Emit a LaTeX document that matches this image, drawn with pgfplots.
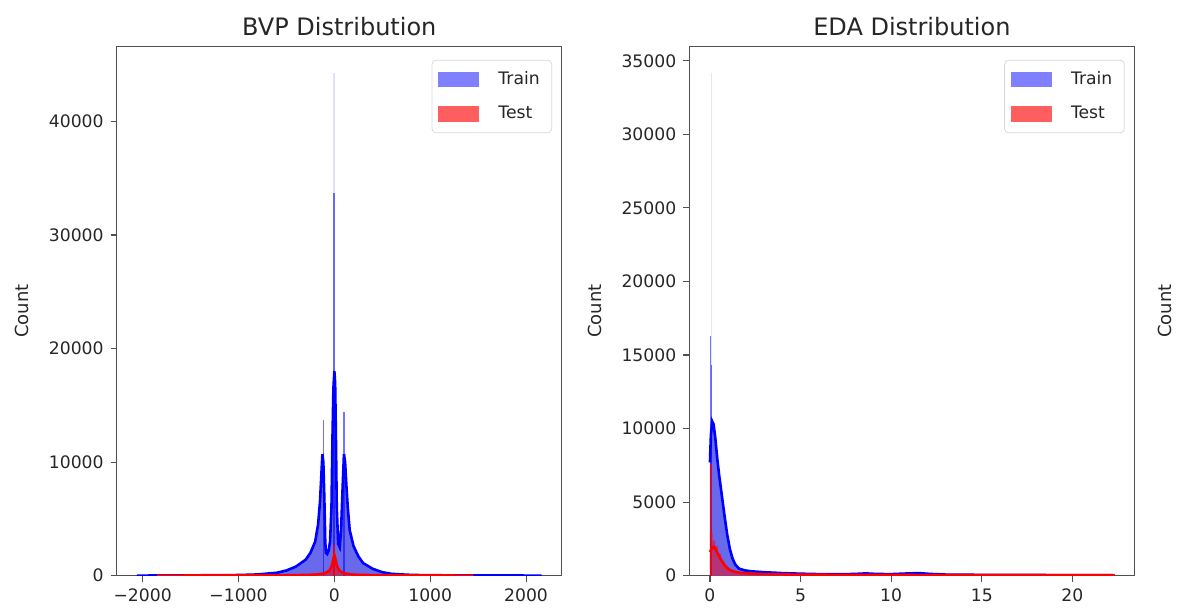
\documentclass[border=0pt]{standalone}
\usepackage{fontspec}
\setmainfont{DejaVu Sans}
\usepackage{pgfplots}
\pgfplotsset{compat=1.18}
\definecolor{histblue}{RGB}{105,105,235}
\definecolor{axgray}{RGB}{80,80,80}
\pgfplotsset{
  dist/.style={
    scale only axis,
    width=222.6pt, height=264.5pt,
    scaled x ticks=false, scaled y ticks=false,
    axis line style={axgray, line width=0.55pt},
    tick align=outside, tick pos=left,
    major tick length=3pt,
    every tick/.style={axgray, line width=0.55pt},
    tick label style={font=\fontsize{8.6}{10}\selectfont, text=black!85},
    /pgf/number format/assume math mode=true,
    ylabel={Count},
    ylabel style={font=\fontsize{9}{10}\selectfont, text=black!85, at={(axis description cs:-0.213,0.5)}, anchor=center},
    every axis title shift=0pt,
    title style={font=\fontsize{12}{14}\selectfont, text=black!85, at={(axis description cs:0.5,1)}, anchor=base, yshift=5.5pt},
    legend style={at={(axis description cs:0.978,0.975)}, anchor=north east, draw=black!15, rounded corners=2pt,
      font=\fontsize{8.6}{10}\selectfont, text=black!85, inner xsep=3pt, inner ysep=3.5pt, row sep=5.5pt,
      fill=white, fill opacity=0.8, text opacity=1,
      nodes={inner xsep=3pt}},
    legend cell align=left,
    patchleg/.style={legend image code/.code={\fill[##1, draw=none, sharp corners] (0pt,-3.8pt) rectangle (20.5pt,3.8pt); \path (27pt,0pt);}},
  }
}
\begin{document}
\begin{tikzpicture}
\path[use as bounding box] (0,0) rectangle (590pt,308pt);
% ---------------- BVP ----------------
\begin{axis}[dist, at={(58.35pt,20.2pt)}, anchor=south west,
  title={BVP Distribution},
  xmin=-2271, xmax=2374, ymin=0, ymax=46600,
  xtick={-2000,-1000,0,1000,2000}, xticklabels={−2000,−1000,0,1000,2000},
  ytick={0,10000,20000,30000,40000}, yticklabels={0,10000,20000,30000,40000}]
\addlegendimage{patchleg, fill=blue, fill opacity=0.5}
\addlegendentry{Train}
\addlegendimage{patchleg, fill=red, fill opacity=0.63}
\addlegendentry{Test}
% train histogram area
\addplot[fill=histblue, draw=none, forget plot] coordinates {
(-2060,0) (-1500,20) (-1000,50) (-800,100) (-600,250) (-500,450) (-400,800) (-300,1400)
(-250,2000) (-200,3000) (-170,4500) (-150,6500) (-135,9000) (-125,10700) (-115,10000)
(-105,7000) (-95,3000) (-88,2000) (-75,1900) (-60,2200) (-45,3000) (-30,6000) (-20,12000)
(-10,16500) (0,18000) (8,17000) (15,13000) (25,6000) (40,2800) (56,2500) (70,4000)
(85,7500) (100,10700) (112,10000) (125,8000) (140,6000) (160,4000) (200,2600) (250,1700)
(300,1100) (400,600) (500,300) (600,150) (800,60) (1000,30) (1500,15) (2163,0)} \closedcycle;
% train spikes
\addplot[ycomb, blue, opacity=0.12, line width=0.6pt, forget plot] coordinates {(-3,44300)};
\addplot[ycomb, blue, opacity=0.55, line width=0.8pt, forget plot] coordinates {(-3,33700) (-115,13700) (102,14400)};
% train kde
\addplot[blue, line width=1.3pt, forget plot] coordinates {
(-2060,0) (-1500,20) (-1000,50) (-800,100) (-600,250) (-500,450) (-400,800) (-300,1400)
(-250,2000) (-200,3000) (-170,4500) (-150,6500) (-135,9000) (-125,10700) (-115,10000)
(-105,7000) (-95,3000) (-88,2000) (-75,1900) (-60,2200) (-45,3000) (-30,6000) (-20,12000)
(-10,16500) (0,18000) (8,17000) (15,13000) (25,6000) (40,2800) (56,2500) (70,4000)
(85,7500) (100,10700) (112,10000) (125,8000) (140,6000) (160,4000) (200,2600) (250,1700)
(300,1100) (400,600) (500,300) (600,150) (800,60) (1000,30) (1500,15) (2163,0)};
% test histogram area
\addplot[fill=red, fill opacity=0.55, draw=none, forget plot] coordinates {
(-1850,0) (-500,20) (-200,80) (-100,200) (-50,450) (-25,900) (-10,1500) (0,1800)
(10,1500) (25,900) (50,450) (100,200) (200,80) (500,20) (1450,0)} \closedcycle;
\addplot[ycomb, red, opacity=0.7, line width=0.8pt, forget plot] coordinates {(-3,2700)};
% test kde
\addplot[red, line width=1.3pt, forget plot] coordinates {
(-1850,0) (-500,20) (-200,80) (-100,200) (-50,450) (-25,900) (-10,1500) (0,1800)
(10,1500) (25,900) (50,450) (100,200) (200,80) (500,20) (1450,0)};
\end{axis}
% ---------------- EDA ----------------
\begin{axis}[dist, at={(344.65pt,20.2pt)}, anchor=south west,
  title={EDA Distribution},
  xmin=-1.14, xmax=23.43, ymin=0, ymax=35970,
  xtick={0,5,10,15,20}, xticklabels={0,5,10,15,20},
  ytick={0,5000,...,35000}, yticklabels={0,5000,10000,15000,20000,25000,30000,35000}]
\addlegendimage{patchleg, fill=blue, fill opacity=0.5}
\addlegendentry{Train}
\addlegendimage{patchleg, fill=red, fill opacity=0.63}
\addlegendentry{Test}
% train histogram area
\addplot[fill=histblue, draw=none, forget plot] coordinates {
(0,7700) (0.05,9500) (0.12,10500) (0.2,10300) (0.3,9300) (0.4,8000) (0.5,6900) (0.65,5500)
(0.8,4100) (0.95,2800) (1.1,1800) (1.25,1150) (1.4,750) (1.6,480) (1.9,360) (2.3,290)
(3,230) (4,170) (5,130) (6,100) (7,90) (8,110) (8.6,150) (9.2,110) (10,100) (10.8,140)
(11.5,170) (12.2,110) (13,70) (15,50) (18,40) (20,30) (22.33,20)} \closedcycle;
% train spikes
\addplot[ycomb, blue, opacity=0.1, line width=0.6pt, forget plot] coordinates {(0.1,34200)};
\addplot[ycomb, blue, opacity=0.55, line width=0.8pt, forget plot] coordinates {(0.03,16300) (0.08,14300)};
% train kde
\addplot[blue, line width=1.3pt, forget plot] coordinates {
(0,7700) (0.05,9500) (0.12,10500) (0.2,10300) (0.3,9300) (0.4,8000) (0.5,6900) (0.65,5500)
(0.8,4100) (0.95,2800) (1.1,1800) (1.25,1150) (1.4,750) (1.6,480) (1.9,360) (2.3,290)
(3,230) (4,170) (5,130) (6,100) (7,90) (8,110) (8.6,150) (9.2,110) (10,100) (10.8,140)
(11.5,170) (12.2,110) (13,70) (15,50) (18,40) (20,30) (22.33,20)};
% test histogram
\addplot[const plot, fill=red, fill opacity=0.5, draw=none, forget plot] coordinates {
(0,3000) (0.03,2900) (0.08,2900) (0.15,2400) (0.3,2000) (0.45,1500) (0.6,1000) (0.8,600)
(1.0,350) (1.3,200) (1.8,100) (3,30) (22.33,30)} \closedcycle;
\addplot[ycomb, red, opacity=0.7, line width=0.8pt, forget plot] coordinates {(0.05,7600)};
% test kde
\addplot[red, line width=1.3pt, forget plot] coordinates {
(0,1600) (0.1,1850) (0.2,1960) (0.3,1800) (0.45,1450) (0.6,1100) (0.8,720) (1.0,460)
(1.2,320) (1.5,220) (2,150) (3,100) (5,60) (10,40) (15,30) (22.33,20)};
\end{axis}
% cut-off third panel label
\node[rotate=90, font=\fontsize{9}{10}\selectfont, text=black!85] at (582.5pt,152.5pt) {Count};
\end{tikzpicture}
\end{document}
